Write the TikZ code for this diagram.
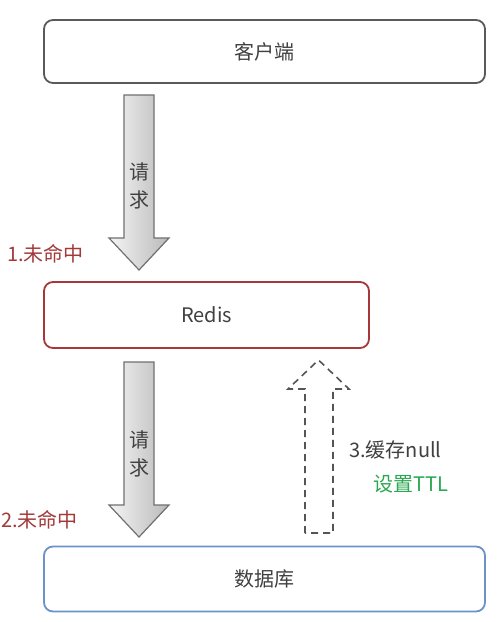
\documentclass[tikz,border=0pt]{standalone}
\usepackage{fontspec}
\setmainfont{Noto Sans CJK SC}
\begin{document}
\begin{tikzpicture}[x=1pt,y=-1pt,
  box/.style={draw, rounded corners=9pt, line width=1.8pt, fill=white, font=\fontsize{20}{22}\selectfont, text=txtgray},
  blockarrow/.style={draw=arrowgray, line width=1.2pt, left color=gray!8, right color=gray!55, shading angle=90},
  dasharrow/.style={draw=dashgray, line width=1.6pt, dash pattern=on 7pt off 5pt},
  lbl/.style={font=\fontsize{20}{22}\selectfont, inner sep=0pt}]
\definecolor{txtgray}{HTML}{404040}
\definecolor{boxgray}{HTML}{5A5A5A}
\definecolor{redisred}{HTML}{A8373A}
\definecolor{dbblue}{HTML}{6B93C8}
\definecolor{lblred}{HTML}{A33A3A}
\definecolor{lblgreen}{HTML}{2AA84F}
\definecolor{arrowgray}{HTML}{707070}
\definecolor{dashgray}{HTML}{555555}
\useasboundingbox (0,0) rectangle (499,622);
\fill[white] (0,0) rectangle (499,622);
\node[box, draw=boxgray, minimum width=441pt, minimum height=63pt] (client) at (264.5,51.5) {客户端};
\node[box, draw=redisred, minimum width=325pt, minimum height=66pt] (redis) at (206.5,315) {Redis};
\node[box, draw=dbblue, minimum width=441pt, minimum height=65pt] (db) at (264.5,579) {数据库};
% arrow 1
\path[blockarrow] (124,95) -- (154,95) -- (154,238) -- (169,238) -- (139,270) -- (109,238) -- (124,238) -- cycle;
\node[lbl, text=txtgray] (req1a) at (139,172) {请};
\node[lbl, text=txtgray] (req1b) at (139,200) {求};
% arrow 2
\path[blockarrow] (124,362) -- (154,362) -- (154,505) -- (169,505) -- (139,537) -- (109,505) -- (124,505) -- cycle;
\node[lbl, text=txtgray] (req2a) at (139,440) {请};
\node[lbl, text=txtgray] (req2b) at (139,468) {求};
% dashed arrow
\draw[dasharrow] (305,533) -- (305,389) -- (288,389) -- (318.5,360) -- (349,389) -- (333,389) -- (333,533) -- cycle;
% labels
\node[lbl, text=lblred, anchor=west] (miss1) at (7,254) {1.未命中};
\node[lbl, text=lblred, anchor=west] (miss2) at (1,520) {2.未命中};
\node[lbl, text=txtgray, anchor=west] (cache) at (349,450) {3.缓存null};
\node[lbl, text=lblgreen, anchor=west] (ttl) at (373,484) {设置TTL};
\end{tikzpicture}
\end{document}
